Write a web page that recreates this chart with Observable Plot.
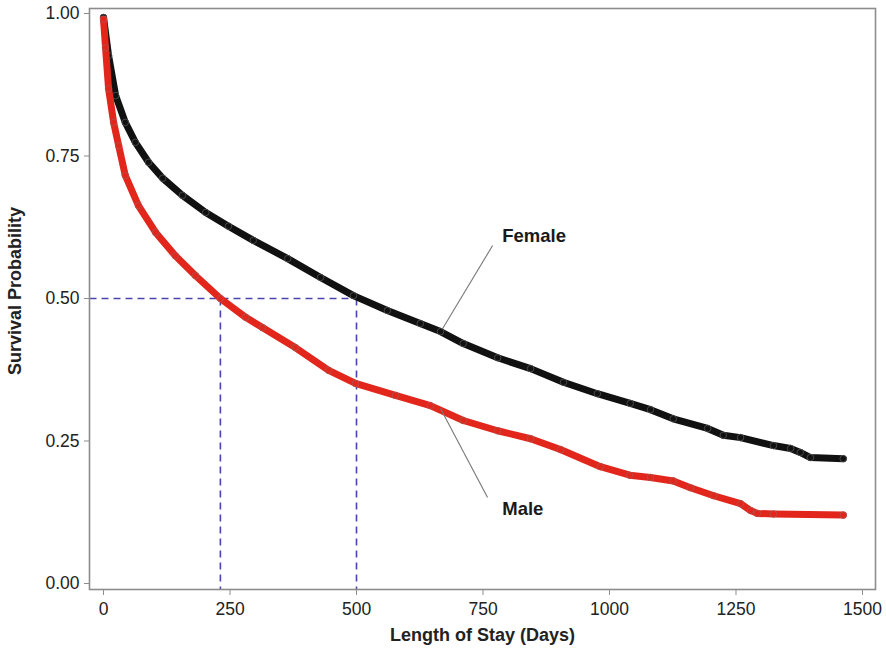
<!DOCTYPE html>
<html><head><meta charset="utf-8">
<script src="https://cdn.jsdelivr.net/npm/d3@7"></script>
<script src="https://cdn.jsdelivr.net/npm/@observablehq/plot@0.6"></script>
<style>body{margin:0;background:#fff}</style>
</head><body><div id="chart"></div>
<script>
const xTicks = [0, 250, 500, 750, 1000, 1250, 1500];
const yTicks = [0, 0.25, 0.5, 0.75, 1];
const femaleDays = [0, 10, 24, 43, 63, 89, 117, 156, 202, 247, 296, 364, 429, 494, 561, 626, 666, 711, 779, 844, 909, 976, 1041, 1081, 1126, 1194, 1225, 1259, 1324, 1358, 1377, 1397, 1462];
const femaleSurv = [0.993, 0.926, 0.856, 0.809, 0.774, 0.739, 0.711, 0.681, 0.651, 0.627, 0.602, 0.570, 0.537, 0.505, 0.479, 0.456, 0.442, 0.421, 0.396, 0.377, 0.353, 0.333, 0.316, 0.305, 0.289, 0.272, 0.260, 0.256, 0.242, 0.237, 0.230, 0.221, 0.219];
const maleDays = [0, 4, 10, 20, 30, 43, 69, 103, 142, 182, 231, 281, 314, 379, 445, 498, 577, 646, 711, 779, 844, 903, 982, 1040, 1081, 1126, 1160, 1206, 1259, 1279, 1292, 1324, 1462];
const maleSurv = [0.99, 0.94, 0.868, 0.809, 0.768, 0.716, 0.663, 0.616, 0.575, 0.540, 0.500, 0.467, 0.449, 0.414, 0.374, 0.351, 0.330, 0.312, 0.286, 0.268, 0.254, 0.235, 0.205, 0.190, 0.186, 0.180, 0.168, 0.154, 0.140, 0.128, 0.123, 0.122, 0.120];
const medianDays = [231, 500];
const medianSurv = 0.5;
const seriesNames = ["Female", "Male"];
const labelDays = [788, 788];
const labelSurv = [0.609, 0.130];
const leaderFrom = [[769, 0.593], [759, 0.151]];
const leaderTo = [[670, 0.447], [666, 0.307]];

const xDomain = [-27.7, 1525.7];
const yDomain = [-0.0105, 1.0088];

const female = femaleDays.map((d, i) => ({day: d, surv: femaleSurv[i]}));
const male = maleDays.map((d, i) => ({day: d, surv: maleSurv[i]}));
const labels = seriesNames.map((n, i) => ({name: n, day: labelDays[i], surv: labelSurv[i]}));
const leaders = seriesNames.map((n, i) => ({x1: leaderFrom[i][0], y1: leaderFrom[i][1], x2: leaderTo[i][0], y2: leaderTo[i][1]}));
const hLine = [{x1: xDomain[0], x2: medianDays[1], y1: medianSurv, y2: medianSurv}];
const vLines = medianDays.map(d => ({x1: d, x2: d, y1: medianSurv, y2: yDomain[0]}));

const chart = Plot.plot({
  width: 886, height: 656,
  marginLeft: 89, marginRight: 11, marginTop: 8, marginBottom: 67,
  style: {fontFamily: "'Liberation Sans', Arial, sans-serif", fontSize: "17px", color: "#222", background: "#fff"},
  x: {domain: xDomain},
  y: {domain: yDomain},
  marks: [
    Plot.link(hLine.concat(vLines), {x1: "x1", x2: "x2", y1: "y1", y2: "y2", stroke: "#4a45b0", strokeWidth: 1.6, strokeDasharray: "7,5"}),
    Plot.line(female, {x: "day", y: "surv", stroke: "#111", strokeWidth: 7, strokeLinejoin: "round", strokeLinecap: "round"}),
    Plot.dot(female, {x: "day", y: "surv", r: 3.3, stroke: "#555", fill: "#111", strokeWidth: 0.8}),
    Plot.line(male, {x: "day", y: "surv", stroke: "#e2261c", strokeWidth: 7, strokeLinejoin: "round", strokeLinecap: "round"}),
    Plot.dot(male, {x: "day", y: "surv", r: 3.3, stroke: "#a8554f", fill: "#e2261c", strokeWidth: 0.8}),
    Plot.link(leaders, {x1: "x1", x2: "x2", y1: "y1", y2: "y2", stroke: "#777", strokeWidth: 1.1}),
    Plot.text(labels, {x: "day", y: "surv", text: "name", textAnchor: "start", fontWeight: "bold", fontSize: 18.5, fill: "#1a1a1a"}),
    Plot.frame({stroke: "#8c8c8c", strokeWidth: 1.6}),
    Plot.axisX({ticks: xTicks, tickFormat: d3.format("d"), tickSize: 6, tickPadding: 7, stroke: "#8c8c8c", fill: "#222", label: null, fontSize: 17.5}),
    Plot.axisY({ticks: yTicks, tickFormat: d3.format(".2f"), tickSize: 5, tickPadding: 5, stroke: "#8c8c8c", fill: "#222", label: null, fontSize: 17.5}),
    Plot.text(["Length of Stay (Days)"], {frameAnchor: "bottom", dy: 51, text: d => d, fontWeight: "bold", fontSize: 18, fill: "#222"}),
    Plot.text(["Survival Probability"], {frameAnchor: "left", textAnchor: "middle", dx: -74, dy: -8, rotate: -90, text: d => d, fontWeight: "bold", fontSize: 18, fill: "#222"})
  ]
});
document.getElementById("chart").appendChild(chart);
</script>
</body></html>
